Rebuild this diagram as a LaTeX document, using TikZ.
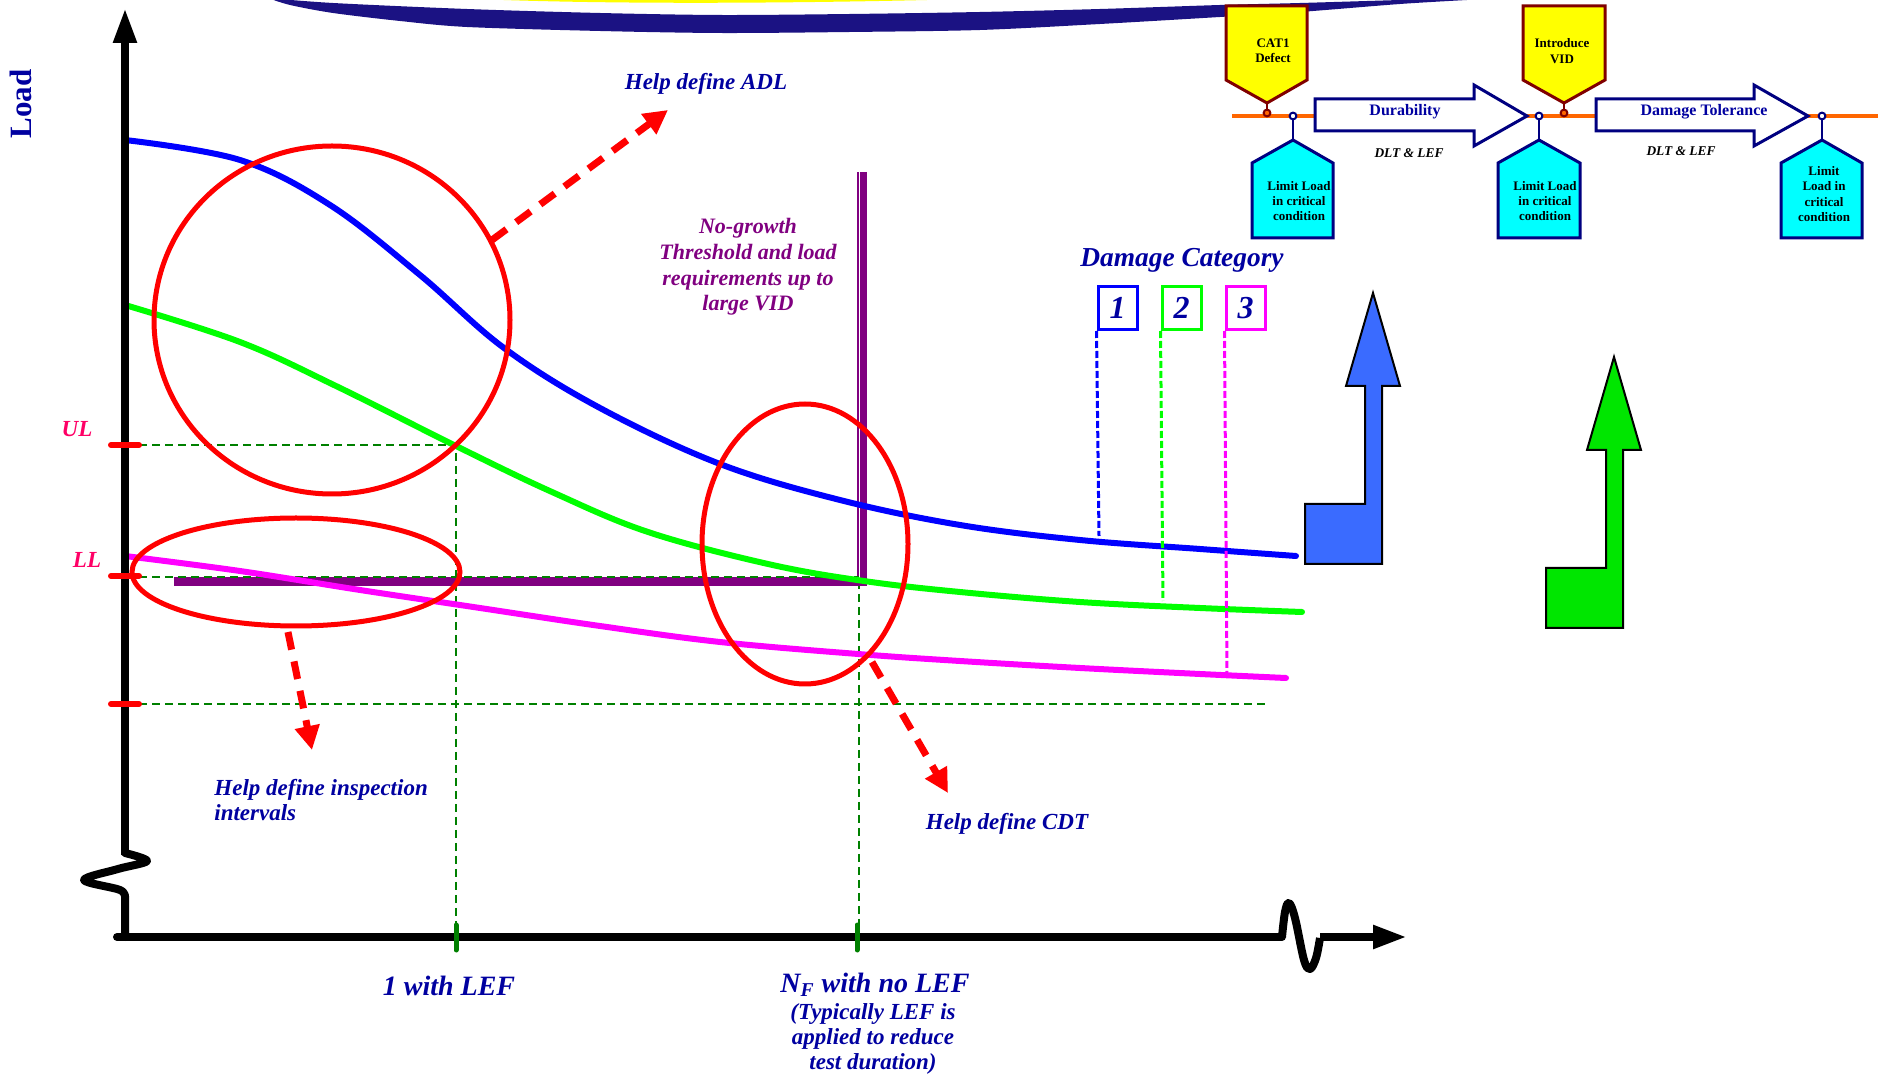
\documentclass[tikz,border=0pt]{standalone}
\usepackage{fontspec}
\setmainfont{Liberation Serif}
\usetikzlibrary{arrows.meta}
\definecolor{navy}{RGB}{0,0,160}
\definecolor{navyb}{RGB}{0,0,128}
\definecolor{swoosh}{RGB}{27,18,131}
\definecolor{dgreen}{RGB}{0,128,0}
\definecolor{lime}{RGB}{0,255,0}
\definecolor{mag}{RGB}{255,0,255}
\definecolor{cyn}{RGB}{0,255,255}
\definecolor{yel}{RGB}{255,255,0}
\definecolor{blu}{RGB}{0,0,255}
\definecolor{purp}{RGB}{128,0,128}
\definecolor{crim}{RGB}{255,0,102}
\definecolor{dred}{RGB}{128,0,0}
\definecolor{orng}{RGB}{255,102,0}
\definecolor{bigblue}{RGB}{58,107,255}
\definecolor{biggreen}{RGB}{0,230,0}
\newcommand\myfs[2]{\fontsize{#1pt}{#2pt}\selectfont}
\begin{document}
\begin{tikzpicture}[x=0.5pt,y=-0.5pt,
  lbl/.style={font=\bfseries\itshape\myfs{11.5}{12.5}, text=navy, inner sep=0pt, align=center},
  curve/.style={line width=3pt, line cap=round},
  ell/.style={draw=red, line width=2.5pt},
  gdash/.style={dgreen, line width=1pt, dash pattern=on 4pt off 2.5pt},
  redarrow/.style={red, line width=3.5pt, dash pattern=on 9pt off 6pt, -{Triangle[length=12pt,width=12pt]}},
  axis/.style={line width=4pt, line join=round},
  tick/.style={red, line width=3pt, line cap=round},
  gtick/.style={dgreen, line width=2.5pt, line cap=round},
  ybox/.style={fill=yel, draw=dred, line width=1.5pt, line join=miter},
  cbox/.style={fill=cyn, draw=navyb, line width=1.5pt},
  tlarrow/.style={fill=white, draw=navyb, line width=1.5pt},
  tltext/.style={font=\bfseries\myfs{6.5}{7.6}, inner sep=0pt, align=center},
  bigarrow/.style={draw=black, line width=1pt},
  catbox/.style={line width=1.5pt, minimum width=19.5pt, minimum height=21.5pt, inner sep=0pt, font=\bfseries\itshape\myfs{16}{16}, text=navy}
]
\useasboundingbox (0,0) rectangle (1881,1074);

% top swoosh (cut-off logo)
\fill[yel] (477,-1) -- (967,-1) .. controls (820,3) and (620,5) .. (477,-1) -- cycle;
\fill[swoosh] plot[smooth] coordinates {(268,-2) (333,3) (467,9) (600,13) (720,15) (850,14) (980,12) (1100,9) (1220,5) (1300,3) (1400,0) (1467,-2)}
  -- plot[smooth] coordinates {(1467,0) (1400,4) (1300,12) (1220,17) (1100,24) (980,30) (850,32) (720,33) (600,31) (467,27) (400,21) (333,13) (290,5) (268,-2)} -- cycle;

% green dashed reference lines
\draw[gdash] (139,445) -- (456,445) -- (456,937);
\draw[gdash] (139,704) -- (1267,704);
\draw[gdash] (859,581) -- (859,937);

% purple threshold lines
\draw[purp, line width=4.5pt] (174,582) -- (867,582);
\draw[purp, line width=5pt] (862,172) -- (862,582);
\draw[white, line width=0.8pt] (859.5,172) -- (859.5,578);
\draw[gdash] (139,577) -- (859,577);

% curves
\draw[curve, blu] plot[smooth, tension=0.6] coordinates {(125,140) (240,160) (330,205) (420,275) (504,348) (600,408) (720,464) (840,500) (960,525) (1080,540) (1200,549) (1296,556)};
\draw[curve, lime] plot[smooth, tension=0.6] coordinates {(125,305) (240,342) (336,386) (456,446) (552,492) (648,532) (768,564) (864,581) (960,592) (1080,602) (1200,608) (1302,612)};
\draw[curve, mag] plot[smooth, tension=0.6] coordinates {(125,556) (240,571) (360,590) (480,608) (600,626) (720,642) (858,654) (960,661) (1080,668) (1200,674) (1286,678)};

% red ellipses
\draw[ell] (332,320) ellipse [x radius=178, y radius=174];
\draw[ell] (296,572) ellipse [x radius=164, y radius=54];
\draw[ell] (805,544) ellipse [x radius=103, y radius=140];

% labels
\node[lbl] (adl) at (706,84) {Help define ADL};
\node[lbl, align=left, anchor=west] (insp) at (214,800) {Help define inspection\\intervals};
\node[lbl] (cdt) at (1007,824) {Help define CDT};
\node[lbl, text=purp, font=\bfseries\itshape\myfs{11}{12.8}] (ngt) at (748,267) {No-growth\\Threshold and load\\requirements up to\\large VID};

% red dashed arrows
\coordinate (a1s) at (492,240); \coordinate (a1e) at (668,110);
\coordinate (a2s) at (288,632); \coordinate (a2e) at (312,750);
\coordinate (a3s) at (872,662); \coordinate (a3e) at (948,793);
\draw[redarrow] (a1s) -- (a1e);
\draw[redarrow] (a2s) -- (a2e);
\draw[redarrow] (a3s) -- (a3e);

% axes
\draw[axis, -{Triangle[length=17.5pt,width=11pt]}] (125,855) -- (125,8);
\draw[axis, line cap=round] plot[smooth, tension=0.55] coordinates {(125,853) (147,861) (118,869) (84,880) (120,890) (125,898)} -- (125,937);
\draw[axis, line cap=round] (117,937) -- (1282,937);
\draw[axis] plot[smooth, tension=0.6] coordinates {(1282,937) (1285,912) (1289,903) (1295,918) (1304,960) (1310,969) (1316,958) (1320,938)};
\draw[axis, -{Triangle[length=17pt,width=11pt]}] (1320,937) -- (1407,937);

% ticks
\draw[tick] (111,445) -- (139,445);
\draw[tick] (111,576) -- (139,576);
\draw[tick] (111,704) -- (139,704);
\draw[gtick] (456,925) -- (456,950);
\draw[gtick] (857,925) -- (857,950);

% axis labels
\node[font=\bfseries\myfs{15.5}{16}, text=navy, rotate=90, inner sep=0pt] (load) at (21,104) {Load};
\node[lbl, text=crim] (ul) at (77,429) {UL};
\node[lbl, text=crim] (ll) at (87,560) {LL};
\node[lbl, font=\bfseries\itshape\myfs{14}{15}] (one) at (449,986) {1 with LEF};
\node[lbl, font=\bfseries\itshape\myfs{14}{15}] (nf) at (875,985) {N\textsubscript{F} with no LEF};
\node[lbl, font=\bfseries\itshape\myfs{11.5}{12.4}] (typ) at (873,1039) {(Typically LEF is\\applied to reduce\\test duration)};

% damage category
\node[lbl, font=\bfseries\itshape\myfs{13.7}{15}] (dc) at (1182,260) {Damage Category};
\node[catbox, draw=blu] (c1) at (1117.5,308) {1};
\node[catbox, draw=lime] (c2) at (1181.5,308) {2};
\node[catbox, draw=mag] (c3) at (1245.5,308) {3};
\draw[blu, line width=1.5pt, dash pattern=on 3.5pt off 1.5pt] (c1.south west) -- (1099,536);
\draw[lime, line width=1.5pt, dash pattern=on 3.5pt off 1.5pt] (c2.south west) -- (1163,601);
\draw[mag, line width=1.5pt, dash pattern=on 3.5pt off 1.5pt] (c3.south west) -- (1227,677);

% big arrows
\draw[bigarrow, fill=bigblue] (1373,293) -- (1400,386) -- (1382,386) -- (1382,564) -- (1305,564) -- (1305,504) -- (1365,504) -- (1365,386) -- (1346,386) -- cycle;
\draw[bigarrow, fill=biggreen] (1614,357) -- (1641,450) -- (1623,450) -- (1623,628) -- (1546,628) -- (1546,568) -- (1606,568) -- (1606,450) -- (1587,450) -- cycle;

% timeline
\draw[orng, line width=2pt] (1232,116) -- (1878,116);
\draw[tlarrow] (1315,99) -- (1474,99) -- (1474,85) -- (1527,116) -- (1474,146) -- (1474,131) -- (1315,131) -- cycle;
\draw[tlarrow] (1596,99) -- (1754,99) -- (1754,85) -- (1808,116) -- (1754,146) -- (1754,131) -- (1596,131) -- cycle;
\node[font=\bfseries\myfs{8}{9}, text=navy, inner sep=0pt] (dur) at (1405,112) {Durability};
\node[font=\bfseries\myfs{8}{9}, text=navy, inner sep=0pt] (dt) at (1704,112) {Damage Tolerance};
\node[font=\bfseries\itshape\myfs{6.7}{7}, inner sep=0pt] (dl1) at (1409,153) {DLT \& LEF};
\node[font=\bfseries\itshape\myfs{6.7}{7}, inner sep=0pt] (dl2) at (1681,151) {DLT \& LEF};

% yellow pins
\draw[ybox] (1226,6) -- (1307,6) -- (1307,80) -- (1267,103) -- (1226,80) -- cycle;
\draw[dred, line width=1pt] (1267,103) -- (1267,110);
\draw[dred, line width=1pt, fill=orng] (1267,113) circle[radius=1.7pt];
\node[tltext] (cat1) at (1273,51) {CAT1\\Defect};
\draw[ybox] (1523,6) -- (1605,6) -- (1605,80) -- (1564,103) -- (1523,80) -- cycle;
\draw[dred, line width=1pt] (1564,103) -- (1564,110);
\draw[dred, line width=1pt, fill=orng] (1564,113) circle[radius=1.7pt];
\node[tltext] (vid) at (1562,51) {Introduce\\VID};

% cyan pins
\draw[cbox] (1293,140) -- (1333,163) -- (1333,238) -- (1252,238) -- (1252,163) -- cycle;
\draw[navyb, line width=1pt] (1293,119) -- (1293,140);
\draw[navyb, line width=1pt, fill=white] (1293,116) circle[radius=1.7pt];
\node[tltext] (ll1) at (1299,201) {Limit Load\\in critical\\condition};
\draw[cbox] (1539,140) -- (1580,163) -- (1580,238) -- (1498,238) -- (1498,163) -- cycle;
\draw[navyb, line width=1pt] (1539,119) -- (1539,140);
\draw[navyb, line width=1pt, fill=white] (1539,116) circle[radius=1.7pt];
\node[tltext] (ll2) at (1545,201) {Limit Load\\in critical\\condition};
\draw[cbox] (1822,140) -- (1862,163) -- (1862,238) -- (1781,238) -- (1781,163) -- cycle;
\draw[navyb, line width=1pt] (1822,119) -- (1822,140);
\draw[navyb, line width=1pt, fill=white] (1822,116) circle[radius=1.7pt];
\node[tltext] (ll3) at (1824,194) {Limit\\Load in\\critical\\condition};
\end{tikzpicture}
\end{document}
